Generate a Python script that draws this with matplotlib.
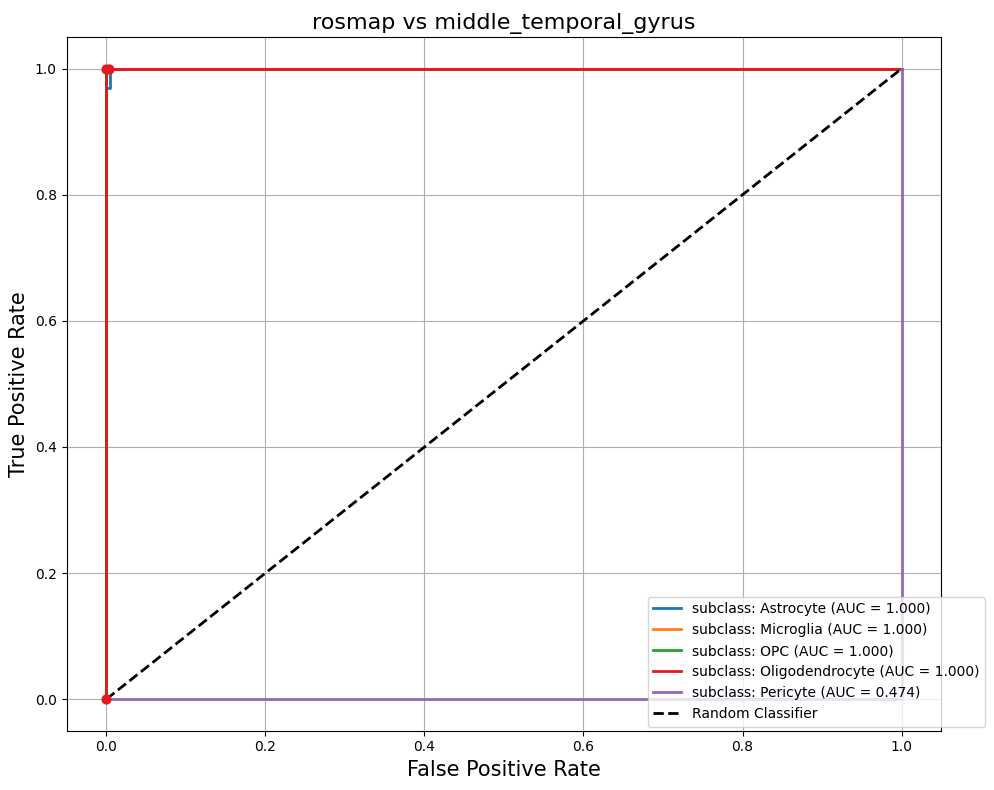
import matplotlib
matplotlib.use('Agg')
import matplotlib.pyplot as plt

names = ['Astrocyte', 'Microglia', 'OPC', 'Oligodendrocyte', 'Pericyte']
aucs = [1.000, 1.000, 1.000, 1.000, 0.474]
colors = ['#1f77b4', '#ff7f0e', '#2ca02c', '#e31a1c', '#9467bd']
fprs = [
    [0.0, 0.0, 0.004, 0.004, 1.0],
    [0.0, 0.0, 1.0],
    [0.0, 0.0, 1.0],
    [0.0, 0.0, 0.003, 1.0],
    [0.0, 1.0, 1.0],
]
tprs = [
    [0.0, 0.97, 0.97, 1.0, 1.0],
    [0.0, 1.0, 1.0],
    [0.0, 1.0, 1.0],
    [0.0, 1.0, 1.0, 1.0],
    [0.0, 0.0, 1.0],
]

fig, ax = plt.subplots(figsize=(9.94, 7.9), dpi=100)
for n, a, c, f, t in zip(names, aucs, colors, fprs, tprs):
    ax.plot(f, t, color=c, lw=2, label='subclass: %s (AUC = %.3f)' % (n, a))
# red dots at the corners
ax.scatter([0.0, 0.0, 0.003], [0.0, 1.0, 1.0], color='#e31a1c', s=40, zorder=3)
ax.plot([0, 1], [0, 1], 'k--', lw=2, label='Random Classifier')
ax.set_xlim(-0.05, 1.05)
ax.set_ylim(-0.05, 1.05)
ax.set_xlabel('False Positive Rate', fontsize=15)
ax.set_ylabel('True Positive Rate', fontsize=15)
ax.set_title('rosmap vs middle_temporal_gyrus', fontsize=16)
ax.grid(True)
ax.legend(loc='lower right', bbox_to_anchor=(1.05, 0.006), borderaxespad=0)
fig.subplots_adjust(left=0.067, right=0.947, top=0.953, bottom=0.075)
plt.savefig('out.png')
